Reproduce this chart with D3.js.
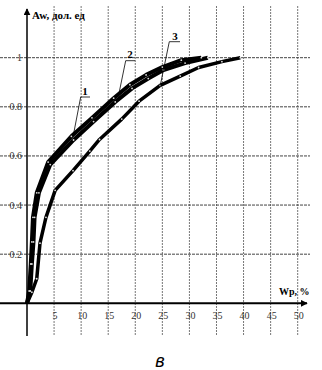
<!DOCTYPE html>
<html>
<head>
<meta charset="utf-8">
<script src="https://cdn.jsdelivr.net/npm/d3@7"></script>
<style>
  body { margin: 0; background: #fff; }
  svg { display: block; }
</style>
</head>
<body>
<div id="chart"></div>
<script>
// data
var xTicks = [5, 10, 15, 20, 25, 30, 35, 40, 45, 50];
var yTicks = [0.2, 0.4, 0.6, 0.8, 1];

// Wp, %  vs  Aw
var curve1 = [[0,0],[0.4,0.05],[0.7,0.16],[0.9,0.25],[1.1,0.35],[1.8,0.45],[3.9,0.575],
  [8.2,0.68],[12,0.755],[16,0.835],[19,0.89],[22,0.93],[25,0.962],[28.5,0.99],[32.2,1.0]];
var curve2 = [[0,0],[0.6,0.05],[0.9,0.16],[1.2,0.25],[1.4,0.35],[2.2,0.45],[4.3,0.565],
  [8.6,0.665],[12.3,0.74],[16.3,0.82],[19.4,0.875],[22.4,0.915],[25.2,0.95],[29.2,0.978],[33.4,1.0]];
var curve3 = [[0,0],[0.9,0.045],[1.8,0.1],[2.4,0.245],[3.5,0.35],[5.2,0.46],[8.5,0.54],
  [11.6,0.62],[13.4,0.667],[17.5,0.75],[20.7,0.823],[24.6,0.887],[28.3,0.925],[31.7,0.96],[36,0.984],[39.4,1.0]];

var svg = d3.select("#chart").append("svg")
    .attr("width", 322)
    .attr("height", 370);

var x = d3.scaleLinear().domain([0, 50]).range([27, 297.7]),
    y = d3.scaleLinear().domain([0, 1]).range([303.3, 57.7]);

var serif = "'Liberation Serif', 'DejaVu Serif', serif";

// grid
svg.append("g").selectAll("line")
    .data(xTicks)
  .enter().append("line")
    .attr("x1", function(d) { return x(d); })
    .attr("x2", function(d) { return x(d); })
    .attr("y1", 6)
    .attr("y2", 336)
    .attr("stroke", "#777")
    .attr("stroke-width", 1)
    .attr("stroke-dasharray", "2,1");

svg.append("g").selectAll("line")
    .data(yTicks)
  .enter().append("line")
    .attr("x1", 0)
    .attr("x2", 310)
    .attr("y1", function(d) { return y(d); })
    .attr("y2", function(d) { return y(d); })
    .attr("stroke", "#444")
    .attr("stroke-width", 1)
    .attr("stroke-dasharray", "3,1");

// axes
svg.append("defs").append("marker")
    .attr("id", "arrow")
    .attr("viewBox", "0 0 10 10")
    .attr("refX", 9).attr("refY", 5)
    .attr("markerWidth", 7).attr("markerHeight", 7)
    .attr("markerUnits", "userSpaceOnUse")
    .attr("orient", "auto")
  .append("path")
    .attr("d", "M0,0L10,5L0,10z")
    .attr("fill", "#000");

svg.append("line")
    .attr("x1", 0).attr("x2", 307)
    .attr("y1", y(0)).attr("y2", y(0))
    .attr("stroke", "#000").attr("stroke-width", 2)
    .attr("marker-end", "url(#arrow)");

svg.append("line")
    .attr("x1", x(0)).attr("x2", x(0))
    .attr("y1", 336).attr("y2", 9)
    .attr("stroke", "#000").attr("stroke-width", 1.5)
    .attr("marker-end", "url(#arrow)");

// tick labels
svg.append("g").selectAll("text")
    .data(xTicks)
  .enter().append("text")
    .attr("x", function(d) { return x(d) + 1; })
    .attr("y", 319)
    .attr("text-anchor", "middle")
    .attr("font-family", serif)
    .attr("font-size", 10)
    .attr("fill", "#333")
    .text(function(d) { return d; });

svg.append("g").selectAll("text")
    .data(yTicks)
  .enter().append("text")
    .attr("x", 22)
    .attr("y", function(d) { return y(d) + 3.5; })
    .attr("text-anchor", "end")
    .attr("font-family", serif)
    .attr("font-size", 10)
    .attr("fill", "#333")
    .text(function(d) { return d; });

// axis titles
svg.append("text")
    .attr("x", 32).attr("y", 19)
    .attr("font-family", serif)
    .attr("font-size", 11)
    .attr("font-weight", "bold")
    .text("Aw, дол. ед");

svg.append("text")
    .attr("x", 279).attr("y", 295)
    .attr("font-family", serif)
    .attr("font-size", 10)
    .attr("font-weight", "bold")
    .text("Wp, %");

// curves
var line = d3.line()
    .x(function(d) { return x(d[0]); })
    .y(function(d) { return y(d[1]); });

var curves = [
  {data: curve3, w: 3.5},
  {data: curve2, w: 4},
  {data: curve1, w: 4}
];

curves.forEach(function(c) {
  svg.append("path")
      .datum(c.data)
      .attr("fill", "none")
      .attr("stroke", "#000")
      .attr("stroke-width", c.w)
      .attr("stroke-linejoin", "round")
      .attr("d", line);
});

curves.forEach(function(c) {
  svg.append("g").selectAll("circle")
      .data(c.data.slice(1))
    .enter().append("circle")
      .attr("cx", function(d) { return x(d[0]); })
      .attr("cy", function(d) { return y(d[1]); })
      .attr("r", 0.9)
      .attr("fill", "#ddd");
});

// curve labels with leaders
var labels = [
  {t: "1", tx: 85, ty: 95, ux1: 80.7, ux2: 90, uy: 97, lx: 73, ly: 137},
  {t: "2", tx: 130, ty: 58, ux1: 125.7, ux2: 135, uy: 60.7, lx: 118.3, ly: 96.7},
  {t: "3", tx: 175, ty: 40, ux1: 169.3, ux2: 180, uy: 41.7, lx: 160, ly: 86.7}
];

labels.forEach(function(l) {
  svg.append("polyline")
      .attr("points", l.ux2 + "," + l.uy + " " + l.ux1 + "," + l.uy + " " + l.lx + "," + l.ly)
      .attr("fill", "none")
      .attr("stroke", "#000")
      .attr("stroke-width", 0.8);
  svg.append("text")
      .attr("x", l.tx).attr("y", l.ty)
      .attr("text-anchor", "middle")
      .attr("font-family", serif)
      .attr("font-size", 11)
      .attr("font-weight", "bold")
      .text(l.t);
});

// panel letter
svg.append("text")
    .attr("x", 160).attr("y", 367)
    .attr("text-anchor", "middle")
    .attr("font-family", "'Liberation Sans', Arial, sans-serif")
    .attr("font-style", "italic")
    .attr("font-size", 18)
    .text("в");
</script>
</body>
</html>
